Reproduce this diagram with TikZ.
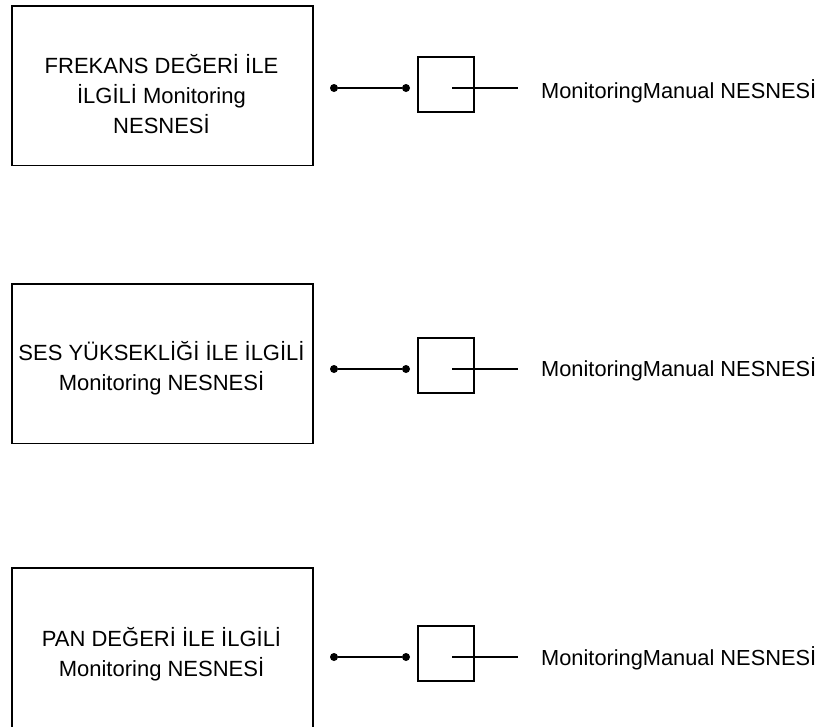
\documentclass[tikz,border=0pt]{standalone}
\usepackage{fontspec}
\setmainfont{Liberation Sans}
\begin{document}
\begin{tikzpicture}[x=1pt,y=-1pt,
  objbox/.style={draw, line width=1.8pt, minimum width=301pt, minimum height=159.5pt, inner sep=0pt, anchor=north west},
  lbl/.style={font=\fontsize{22}{30}\selectfont, align=center, inner sep=0pt, anchor=base},
  pin/.style={circle, fill, inner sep=0pt, minimum size=8pt},
  port/.style={draw, line width=1.5pt, minimum width=56pt, minimum height=55pt, inner sep=0pt},
  wire/.style={line width=1.6pt},
  side/.style={font=\fontsize{21.8}{26}\selectfont, inner sep=0pt, anchor=base west}]
\useasboundingbox (0,0) rectangle (825,726);
\clip (0,0) rectangle (825,726);

% --- first object: frequency ---
\node[objbox] (b1) at (11,5) {};
\node[lbl] (t1) at (161.5,133.3) {FREKANS DEĞERİ İLE\\İLGİLİ Monitoring\\NESNESİ};
\node[pin] (a1) at (334,88) {};
\node[pin] (c1) at (406,88) {};
\node[port] (p1) at (446,84.5) {};
\coordinate (i1) at (452,88);
\coordinate (o1) at (518,88);
\node[side] (m1) at (541,98.3) {MonitoringManual NESNESİ};
\draw[wire] (a1) -- (c1);
\draw[wire] (i1) -- (o1);

% --- second object: volume ---
\node[objbox] (b2) at (11,283) {};
\node[lbl] (t2) at (161.5,390) {SES YÜKSEKLİĞİ İLE İLGİLİ\\Monitoring NESNESİ};
\node[pin] (a2) at (334,369) {};
\node[pin] (c2) at (406,369) {};
\node[port] (p2) at (446,365.5) {};
\coordinate (i2) at (452,369);
\coordinate (o2) at (518,369);
\node[side] (m2) at (541,376.7) {MonitoringManual NESNESİ};
\draw[wire] (a2) -- (c2);
\draw[wire] (i2) -- (o2);

% --- third object: pan ---
\node[objbox, minimum height=162pt] (b3) at (11,567) {};
\node[lbl] (t3) at (161.5,676.7) {PAN DEĞERİ İLE İLGİLİ\\Monitoring NESNESİ};
\node[pin] (a3) at (334,657) {};
\node[pin] (c3) at (406,657) {};
\node[port] (p3) at (446,653.5) {};
\coordinate (i3) at (452,657);
\coordinate (o3) at (518,657);
\node[side] (m3) at (541,665) {MonitoringManual NESNESİ};
\draw[wire] (a3) -- (c3);
\draw[wire] (i3) -- (o3);
\end{tikzpicture}
\end{document}
